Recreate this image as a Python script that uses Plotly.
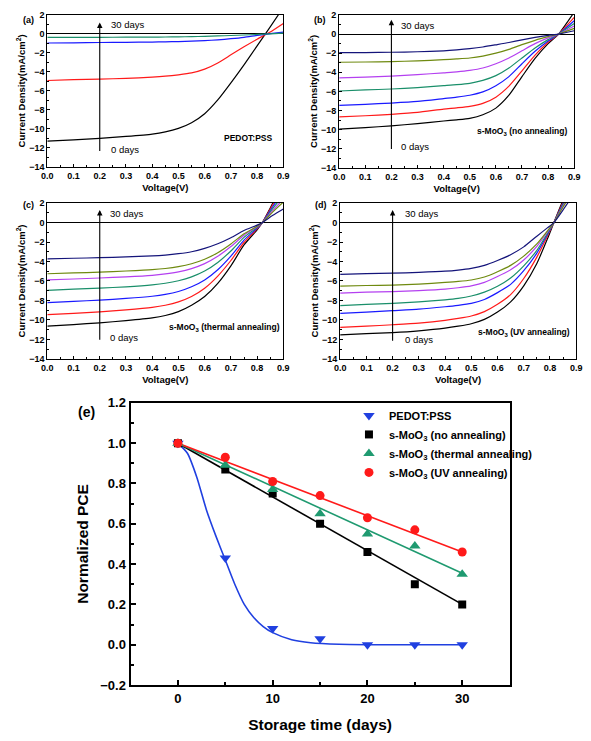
import plotly.graph_objects as go

# ---------------- Data ----------------
# Panel (a) PEDOT:PSS J-V curves (0 days -> 30 days)
V_a = [0, 0.1, 0.2, 0.3, 0.4, 0.45, 0.5, 0.55, 0.6, 0.65, 0.7, 0.75, 0.8, 0.85, 0.9]
a_black = [-11.3, -11.15, -11.0, -10.8, -10.55, -10.32, -9.95, -9.35, -8.4, -6.95, -5.15, -3.25, -1.25, 0.75, 2.8]
a_red = [-4.9, -4.8, -4.75, -4.68, -4.55, -4.45, -4.3, -4.1, -3.7, -3.05, -2.2, -1.35, -0.55, 0.2, 1.1]
a_blue = [-0.95, -0.93, -0.9, -0.88, -0.85, -0.83, -0.8, -0.76, -0.7, -0.62, -0.5, -0.35, -0.15, 0.03, 0.2]
a_green = [-0.35, -0.35, -0.35, -0.34, -0.33, -0.32, -0.3, -0.28, -0.25, -0.21, -0.16, -0.11, -0.05, 0.02, 0.1]

# Panel (b) s-MoO3 (no annealing)
V_b = [0, 0.1, 0.2, 0.3, 0.4, 0.45, 0.5, 0.55, 0.6, 0.65, 0.7, 0.75, 0.8, 0.84, 0.9]
b_black = [-9.95, -9.8, -9.6, -9.38, -9.1, -8.98, -8.82, -8.45, -7.75, -6.4, -4.45, -2.55, -1.0, 0.0, 2.3]
b_red = [-8.67, -8.55, -8.4, -8.2, -7.85, -7.72, -7.56, -7.25, -6.6, -5.45, -3.85, -2.2, -0.85, 0.0, 1.75]
b_blue = [-7.46, -7.35, -7.22, -7.05, -6.75, -6.6, -6.4, -6.05, -5.4, -4.45, -3.1, -1.8, -0.72, 0.0, 1.4]
b_teal = [-5.96, -5.85, -5.75, -5.6, -5.4, -5.3, -5.15, -4.85, -4.35, -3.55, -2.5, -1.45, -0.58, 0.0, 1.1]
b_magenta = [-4.59, -4.5, -4.4, -4.25, -4.05, -3.95, -3.8, -3.55, -3.1, -2.5, -1.75, -1.0, -0.4, 0.0, 0.85]
b_olive = [-2.95, -2.92, -2.88, -2.8, -2.68, -2.6, -2.5, -2.3, -2.0, -1.6, -1.1, -0.65, -0.27, 0.0, 0.6]
b_navy = [-1.95, -1.93, -1.9, -1.85, -1.75, -1.65, -1.52, -1.35, -1.12, -0.88, -0.6, -0.35, -0.14, 0.0, 0.35]

# Panel (c) s-MoO3 (thermal annealing)
V_c = [0, 0.1, 0.2, 0.3, 0.4, 0.45, 0.5, 0.55, 0.6, 0.65, 0.7, 0.75, 0.8, 0.82, 0.86, 0.9]
c_black = [-10.64, -10.48, -10.3, -10.08, -9.8, -9.55, -9.15, -8.5, -7.6, -6.25, -4.45, -2.3, -0.75, 0.0, 2.0, 4.0]
c_red = [-9.47, -9.33, -9.18, -8.98, -8.72, -8.5, -8.15, -7.6, -6.75, -5.5, -3.9, -2.05, -0.65, 0.0, 1.85, 3.6]
c_blue = [-8.23, -8.1, -7.97, -7.8, -7.57, -7.38, -7.08, -6.6, -5.9, -4.85, -3.45, -1.8, -0.57, 0.0, 1.65, 3.2]
c_teal = [-6.96, -6.85, -6.74, -6.6, -6.4, -6.24, -5.98, -5.58, -4.98, -4.1, -2.92, -1.52, -0.5, 0.0, 1.45, 2.8]
c_magenta = [-5.89, -5.8, -5.7, -5.58, -5.42, -5.28, -5.07, -4.73, -4.22, -3.47, -2.47, -1.3, -0.43, 0.0, 1.25, 2.4]
c_olive = [-5.26, -5.18, -5.1, -4.98, -4.84, -4.72, -4.53, -4.23, -3.77, -3.1, -2.2, -1.15, -0.38, 0.0, 1.1, 2.1]
c_navy = [-3.73, -3.67, -3.61, -3.53, -3.43, -3.34, -3.2, -3.0, -2.65, -2.18, -1.56, -0.82, -0.27, 0.0, 0.75, 1.4]

# Panel (d) s-MoO3 (UV annealing)
V_d = [0, 0.1, 0.2, 0.3, 0.4, 0.45, 0.5, 0.55, 0.6, 0.65, 0.7, 0.75, 0.79, 0.815, 0.85, 0.9]
d_black = [-11.55, -11.42, -11.3, -11.12, -10.85, -10.65, -10.4, -9.95, -9.2, -8.15, -6.5, -4.2, -1.7, 0.0, 2.3, 5.0]
d_red = [-10.78, -10.65, -10.5, -10.33, -10.05, -9.85, -9.6, -9.15, -8.4, -7.4, -5.75, -3.55, -1.4, 0.0, 2.1, 4.6]
d_blue = [-9.34, -9.2, -9.05, -8.9, -8.65, -8.5, -8.3, -7.9, -7.2, -6.35, -4.95, -3.15, -1.25, 0.0, 1.95, 4.3]
d_teal = [-8.53, -8.4, -8.3, -8.15, -7.95, -7.8, -7.55, -7.15, -6.55, -5.7, -4.45, -2.85, -1.12, 0.0, 1.85, 4.1]
d_magenta = [-7.26, -7.15, -7.1, -7.0, -6.85, -6.7, -6.5, -6.15, -5.55, -4.85, -3.85, -2.45, -0.97, 0.0, 1.7, 3.9]
d_olive = [-6.53, -6.47, -6.42, -6.32, -6.15, -6.05, -5.9, -5.6, -5.05, -4.4, -3.45, -2.2, -0.87, 0.0, 1.6, 3.7]
d_navy = [-5.32, -5.25, -5.2, -5.12, -5.0, -4.88, -4.7, -4.4, -3.9, -3.3, -2.5, -1.4, -0.55, 0.0, 1.3, 3.3]

# Panel (e) normalized PCE vs storage time
days = [0, 5, 10, 15, 20, 25, 30]
pce_pedot = [1.0, 0.43, 0.08, 0.03, 0.0, 0.0, 0.0]
pce_no_anneal = [1.0, 0.87, 0.75, 0.60, 0.46, 0.30, 0.20]
pce_thermal = [1.0, 0.89, 0.77, 0.65, 0.55, 0.49, 0.35]
pce_uv = [1.0, 0.93, 0.81, 0.74, 0.63, 0.57, 0.46]

# fitted curves
fit_days = [0, 30]
fit_no_anneal = [1.0, 0.2]
fit_thermal = [1.0, 0.355]
fit_uv = [1.0, 0.46]
fit_pedot_days = [0, 1, 2, 3, 4, 5, 6, 7, 8, 9, 10, 12, 14, 17, 20, 25, 30]
fit_pedot = [1.0, 0.95, 0.83, 0.67, 0.54, 0.42, 0.30, 0.20, 0.135, 0.09, 0.06, 0.025, 0.01, 0.002, 0.0, 0.0, 0.0]

# ---------------- Styling ----------------
FONT = "Liberation Sans, Arial, sans-serif"
C_BLACK = "#000000"
C_RED = "#ff1a1a"
C_BLUE = "#1a1aff"
C_TEAL = "#1a8f6a"
C_MAG = "#b440f0"
C_OLIVE = "#6f8a10"
C_NAVY = "#14147a"

# The page body has an 8px margin, so the figure starts at (8, 8) of the window.
OFF = 8
W, H = 591 - OFF, 741 - OFF


def dom_x(a, b):
    return [max(0, (a - OFF) / W), min(1, (b - OFF) / W)]


def dom_y(top, bottom):
    return [max(0, 1 - (bottom - OFF) / H), min(1, 1 - (top - OFF) / H)]


def fx(p):
    return (p - OFF) / W


def fy(p):
    return 1 - (p - OFF) / H


fig = go.Figure()

panels = [
    ("", V_a, [(a_black, C_BLACK), (a_red, C_RED), (a_blue, C_BLUE), (a_green, C_TEAL)]),
    ("2", V_b, [(b_black, C_BLACK), (b_red, C_RED), (b_blue, C_BLUE), (b_teal, C_TEAL),
                (b_magenta, C_MAG), (b_olive, C_OLIVE), (b_navy, C_NAVY)]),
    ("3", V_c, [(c_black, C_BLACK), (c_red, C_RED), (c_blue, C_BLUE), (c_teal, C_TEAL),
                (c_magenta, C_MAG), (c_olive, C_OLIVE), (c_navy, C_NAVY)]),
    ("4", V_d, [(d_black, C_BLACK), (d_red, C_RED), (d_blue, C_BLUE), (d_teal, C_TEAL),
                (d_magenta, C_MAG), (d_olive, C_OLIVE), (d_navy, C_NAVY)]),
]

for suf, V, curves in panels:
    for ys, col in curves:
        fig.add_trace(go.Scatter(
            x=V, y=ys, mode="lines", line=dict(color=col, width=1.2, shape="spline", smoothing=0.6),
            xaxis="x" + suf, yaxis="y" + suf, showlegend=False, hoverinfo="skip"))

# Panel e traces
fig.add_trace(go.Scatter(x=fit_pedot_days, y=fit_pedot, mode="lines",
                         line=dict(color="#2040e0", width=1.6, shape="spline", smoothing=0.6),
                         xaxis="x5", yaxis="y5", showlegend=False))
fig.add_trace(go.Scatter(x=fit_days, y=fit_no_anneal, mode="lines", line=dict(color="#000000", width=1.6),
                         xaxis="x5", yaxis="y5", showlegend=False))
fig.add_trace(go.Scatter(x=fit_days, y=fit_thermal, mode="lines", line=dict(color="#1f9a70", width=1.6),
                         xaxis="x5", yaxis="y5", showlegend=False))
fig.add_trace(go.Scatter(x=fit_days, y=fit_uv, mode="lines", line=dict(color="#ff1a1a", width=1.6),
                         xaxis="x5", yaxis="y5", showlegend=False))

fig.add_trace(go.Scatter(x=days, y=pce_pedot, mode="markers", name="PEDOT:PSS",
                         marker=dict(symbol="triangle-down", size=10, color="#2040e0"),
                         xaxis="x5", yaxis="y5"))
fig.add_trace(go.Scatter(x=days, y=pce_no_anneal, mode="markers", name="s-MoO<sub>3</sub> (no annealing)",
                         marker=dict(symbol="square", size=8, color="#000000"),
                         xaxis="x5", yaxis="y5"))
fig.add_trace(go.Scatter(x=days, y=pce_thermal, mode="markers", name="s-MoO<sub>3</sub> (thermal annealing)",
                         marker=dict(symbol="triangle-up", size=10, color="#1f9a70"),
                         xaxis="x5", yaxis="y5"))
fig.add_trace(go.Scatter(x=days, y=pce_uv, mode="markers", name="s-MoO<sub>3</sub> (UV annealing)",
                         marker=dict(symbol="circle", size=9, color="#ff1a1a"),
                         xaxis="x5", yaxis="y5"))

# ---------------- Axes ----------------
small_tick = dict(family=FONT, size=9, color="black", weight="bold")
small_title = dict(family=FONT, size=9.5, color="black", weight="bold")


def jv_xaxis(dom, anchor):
    return dict(domain=dom, anchor=anchor, range=[0, 0.9], dtick=0.1, tick0=0, tickformat=".1f",
                showline=True, linecolor="black", linewidth=1, mirror=True,
                ticks="inside", ticklen=3, tickcolor="black", tickwidth=1,
                minor=dict(ticks="inside", ticklen=2, dtick=0.05, tickcolor="black"),
                showgrid=False, zeroline=False, tickfont=small_tick,
                title=dict(text="Voltage(V)", font=small_title, standoff=4))


def jv_yaxis(dom, anchor):
    return dict(domain=dom, anchor=anchor, range=[-14, 2], dtick=2, tick0=0,
                showline=True, linecolor="black", linewidth=1, mirror=True,
                ticks="inside", ticklen=3, tickcolor="black", tickwidth=1,
                minor=dict(ticks="inside", ticklen=2, dtick=1, tickcolor="black"),
                showgrid=False, zeroline=True, zerolinecolor="black", zerolinewidth=1,
                tickfont=small_tick,
                title=dict(text="Current Density(mA/cm<sup>2</sup>)", font=small_title, standoff=1))


big_tick = dict(family=FONT, size=13, color="black", weight="bold")
big_title = dict(family=FONT, size=15.5, color="black", weight="bold")

fig.update_layout(
    width=W, height=H, margin=dict(l=0, r=0, t=0, b=0),
    paper_bgcolor="white", plot_bgcolor="white",
    font=dict(family=FONT, color="black"),
    xaxis=jv_xaxis(dom_x(42, 283), "y"), yaxis=jv_yaxis(dom_y(4, 163), "x"),
    xaxis2=jv_xaxis(dom_x(340, 580), "y2"), yaxis2=jv_yaxis(dom_y(5, 164), "x2"),
    xaxis3=jv_xaxis(dom_x(42, 283), "y3"), yaxis3=jv_yaxis(dom_y(200, 359), "x3"),
    xaxis4=jv_xaxis(dom_x(341, 582), "y4"), yaxis4=jv_yaxis(dom_y(200, 359), "x4"),
    xaxis5=dict(domain=dom_x(127, 514), anchor="y5", range=[-5, 35], tickvals=[0, 10, 20, 30],
                showline=True, linecolor="black", linewidth=2, mirror=True,
                ticks="inside", ticklen=5, tickwidth=2, tickcolor="black",
                minor=dict(ticks="inside", ticklen=3, tickvals=[5, 15, 25], tickcolor="black", tickwidth=1.5),
                showgrid=False, zeroline=False, tickfont=big_tick,
                title=dict(text="Storage time (days)", font=big_title, standoff=15)),
    yaxis5=dict(domain=dom_y(404, 692), anchor="x5", range=[-0.2, 1.2], dtick=0.2, tick0=0, tickformat=".1f",
                showline=True, linecolor="black", linewidth=2, mirror=True,
                ticks="inside", ticklen=5, tickwidth=2, tickcolor="black",
                minor=dict(ticks="inside", ticklen=3, dtick=0.1, tickcolor="black", tickwidth=1.5),
                showgrid=False, zeroline=False, tickfont=big_tick,
                title=dict(text="Normalized PCE", font=big_title, standoff=8)),
    legend=dict(x=fx(350), y=fy(402), xanchor="left", yanchor="top",
                bgcolor="rgba(0,0,0,0)", borderwidth=0,
                font=dict(family=FONT, size=11, color="black", weight="bold"),
                tracegroupgap=0, itemwidth=30),
)

# ---------------- Annotations ----------------
ann = []
lab_font = dict(family=FONT, size=8.5, color="black", weight="bold")
days_font = dict(family=FONT, size=9.5, color="black")


def add_panel_annots(suf, arrow_bot, arrow_top, lbl_x, lbl_y, zero_y, label, label_x, label_y):
    xr = "x" + suf
    yr = "y" + suf
    ann.append(dict(x=0.2, y=arrow_top, ax=0.2, ay=arrow_bot, xref=xr, yref=yr, axref=xr, ayref=yr,
                    showarrow=True, arrowhead=2, arrowsize=1, arrowwidth=1.1, arrowcolor="black", text=""))
    ann.append(dict(x=lbl_x, y=lbl_y, xref=xr, yref=yr, text="30 days", showarrow=False,
                    xanchor="left", yanchor="middle", font=days_font))
    ann.append(dict(x=lbl_x, y=zero_y, xref=xr, yref=yr, text="0 days", showarrow=False,
                    xanchor="left", yanchor="middle", font=days_font))
    ann.append(dict(x=label_x, y=label_y, xref=xr, yref=yr, text=label, showarrow=False,
                    xanchor="center", yanchor="middle", font=lab_font))


add_panel_annots("", -12.5, 1.2, 0.235, 0.95, -12.2, "PEDOT:PSS", 0.766, -11.0)
add_panel_annots("2", -12.2, 1.5, 0.23, 0.95, -11.8, "s-MoO<sub>3</sub> (no annealing)", 0.70, -10.2)
add_panel_annots("3", -12.2, 1.3, 0.23, 0.95, -11.8, "s-MoO<sub>3</sub> (thermal annealing)", 0.675, -10.8)
add_panel_annots("4", -12.3, 1.3, 0.24, 0.95, -12.0, "s-MoO<sub>3</sub> (UV annealing)", 0.70, -11.3)

for t, xp, yp in [("(a)", 15, 13), ("(b)", 312, 13), ("(c)", 15, 202), ("(d)", 313, 202)]:
    ann.append(dict(x=fx(xp), y=fy(yp), xref="paper", yref="paper", text=t, showarrow=False,
                    xanchor="left", yanchor="middle", font=dict(family=FONT, size=9, color="black", weight="bold")))
ann.append(dict(x=fx(71), y=fy(413), xref="paper", yref="paper", text="(e)", showarrow=False,
                xanchor="left", yanchor="middle", font=dict(family=FONT, size=14, color="black", weight="bold")))

fig.update_layout(annotations=ann)

fig.write_html("out.html")
